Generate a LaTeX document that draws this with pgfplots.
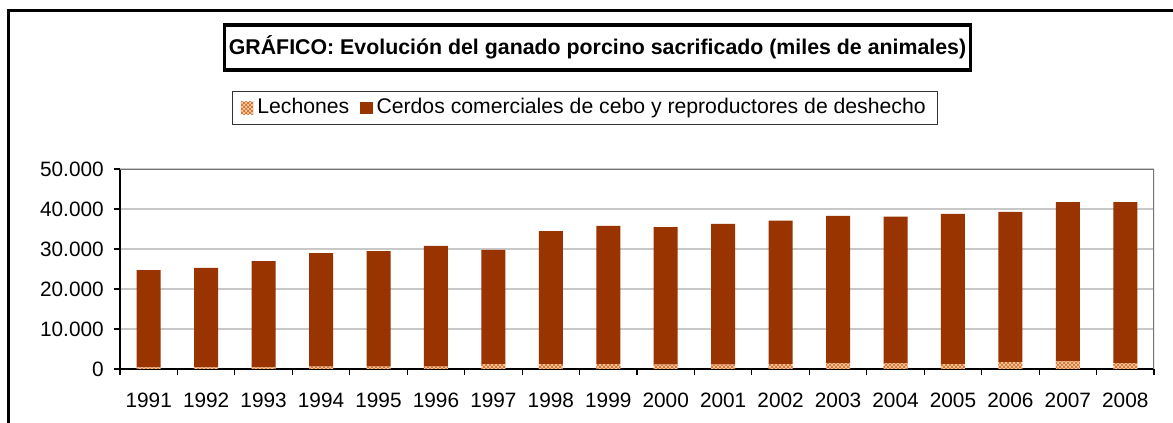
\documentclass[border=0pt]{standalone}
\usepackage{pgfplots}
\pgfplotsset{compat=1.18}
\usepackage{fontspec}
\setmainfont{Liberation Sans}
\usetikzlibrary{patterns}
\definecolor{cerdo}{HTML}{993300}
\definecolor{lechfill}{HTML}{FFCC99}
\definecolor{lechpat}{HTML}{C8672E}
\definecolor{gridc}{HTML}{C8C8C8}

\pgfplotstableread{
x lech cerdo
0 400 24300
1 400 24900
2 400 26600
3 600 28400
4 600 28900
5 600 30200
6 1250 28550
7 1250 33250
8 1250 34550
9 1100 34400
10 1100 35200
11 1250 35850
12 1500 36800
13 1500 36600
14 1250 37550
15 1750 37550
16 1900 39800
17 1500 40200
}\datatable

\newcommand\px[2]{({(#1)*0.75pt},{-(#2)*0.75pt})}

\begin{document}
\fontsize{15pt}{18pt}\selectfont
\begin{tikzpicture}
\path[use as bounding box] \px{0}{0} rectangle \px{1173}{423};
% outer frame
\draw[line width=2pt,line cap=rect] \px{8.5}{423} -- \px{8.5}{10.5} -- \px{1173}{10.5};
% title
\node[draw=black,line width=2.6pt,inner xsep=0pt,minimum width=746*0.75pt,minimum height=45*0.75pt,font=\fontsize{16pt}{19pt}\selectfont\bfseries] at \px{597.5}{47.5} {GRÁFICO: Evolución del ganado porcino sacrificado (miles de animales)};
\begin{axis}[
  at={(90pt,-276.75pt)}, anchor=south west,
  scale only axis,
  width=775.5pt, height=150pt,
  ybar stacked, bar width=18pt,
  xmin=-0.5, xmax=17.5,
  ymin=0, ymax=50000,
  ytick={0,10000,...,50000},
  scaled y ticks=false,
  yticklabel style={/pgf/number format/.cd, fixed, precision=0, 1000 sep={.}, assume math mode=true, /tikz/.cd, xshift=-2.5pt},
  xtick={-0.5,0.5,...,17.5},
  x tick label as interval,
  xticklabels={1991,1992,1993,1994,1995,1996,1997,1998,1999,2000,2001,2002,2003,2004,2005,2006,2007,2008},
  xticklabel style={yshift=-8.5pt},
  axis lines*=left,
  axis line style={black, line width=0.8pt},
  tick align=outside,
  major tick length=4.5pt,
  tick style={black, line width=0.8pt},
  ymajorgrids, grid style={gridc, line width=0.8pt},
  every tick label/.append style={font=\fontsize{15.6pt}{18pt}\selectfont},
  legend columns=2,
  legend style={at={(0.450,1.306)}, anchor=center, draw=black!80, line width=0.6pt,
    font=\fontsize{15.9pt}{18pt}\selectfont, inner xsep=6pt, inner ysep=3.5pt,
    nodes={inner xsep=3pt},
    /tikz/every even column/.append style={column sep=5pt}},
  legend image code/.code={\path[#1,draw=none] (-0.5pt,-4.7pt) rectangle (8.9pt,4.7pt);},
]
\addplot[fill=lechfill, draw=none, postaction={pattern=crosshatch, pattern color=lechpat}] table[x=x,y=lech] {\datatable};
\addlegendentry{Lechones}
\addplot[fill=cerdo, draw=none] table[x=x,y=cerdo] {\datatable};
\addlegendentry{Cerdos comerciales de cebo y reproductores de deshecho}
\draw[black!55, line width=0.8pt] (rel axis cs:0,1) -- (rel axis cs:1,1) -- (rel axis cs:1,0);
\end{axis}
\end{tikzpicture}
\end{document}
